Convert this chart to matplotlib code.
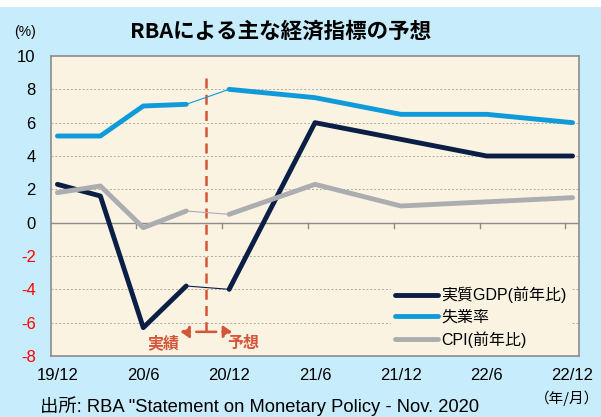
import matplotlib
matplotlib.use("Agg")
import matplotlib.pyplot as plt
from matplotlib.patches import Rectangle, FancyArrowPatch

plt.rcParams['font.family'] = ['Liberation Sans', 'Noto Sans CJK JP', 'DejaVu Sans']

# months after 2019/12
months = [0, 3, 6, 9, 12, 18, 24, 30, 36]
gdp = [2.3, 1.6, -6.3, -3.8, -4.0, 6.0, 5.0, 4.0, 4.0]
unemp = [5.2, 5.2, 7.0, 7.1, 8.0, 7.5, 6.5, 6.5, 6.0]
cpi = [1.8, 2.2, -0.3, 0.7, 0.5, 2.3, 1.0, 1.25, 1.5]
n_actual = 4  # first 4 points are actual values

xlabels = ['19/12', '20/6', '20/12', '21/6', '21/12', '22/6', '22/12']
xlabel_pos = [0, 6, 12, 18, 24, 30, 36]
yticks = [-8, -6, -4, -2, 0, 2, 4, 6, 8, 10]

series = [
    ('実質GDP(前年比)', gdp, '#0B1E45'),
    ('失業率', unemp, '#0F9BDA'),
    ('CPI(前年比)', cpi, '#ABADB0'),
]

W, H = 601, 417
fig = plt.figure(figsize=(W / 100, H / 100), dpi=100)
fig.patch.set_facecolor('#C7ECFB')
fig.patches.append(Rectangle((0, 1 - 7 / H), 1, 7 / H, transform=fig.transFigure,
                             facecolor='white', edgecolor='none', zorder=0))

ax = fig.add_axes([51 / W, 61 / H, (579 - 51) / W, (356 - 56) / H])
ax.set_facecolor('#FAF3E2')
ax.set_xlim(-0.45, 36.45)
ax.set_ylim(-8, 10)

for y in [-6, -4, -2, 2, 4, 6, 8]:
    ax.axhline(y, color='#B0ABA0', lw=0.7, ls=(0, (2, 2)), zorder=1)
ax.axhline(0, color='#8C8C8C', lw=1.0, zorder=1)
for t in [5.5, 11.5, 17.5, 23.5, 29.5, 35.5]:
    ax.plot([t, t], [0, -0.3], color='#8C8C8C', lw=1.0, zorder=1)

for spine in ax.spines.values():
    spine.set_color('#8C8C8C')
    spine.set_linewidth(1.2)

handles = []
for label, vals, col in series:
    h, = ax.plot(months[:n_actual], vals[:n_actual], color=col, lw=3.5,
                 solid_capstyle='round', solid_joinstyle='round', zorder=4, label=label)
    ax.plot(months[n_actual - 1:n_actual + 1], vals[n_actual - 1:n_actual + 1],
            color=col, lw=0.8, zorder=3)
    ax.plot(months[n_actual:], vals[n_actual:], color=col, lw=3.5,
            solid_capstyle='round', solid_joinstyle='round', zorder=4)
    handles.append(h)

red = '#D4553A'
ax.plot([10.4, 10.4], [8.7, -6.55], color=red, lw=1.8, ls=(0, (4, 2.5)), zorder=2)
ax.add_patch(FancyArrowPatch((10.4, -6.55), (8.6, -6.55), arrowstyle='-|>,head_length=5,head_width=3.5',
                             color=red, lw=1.8, ls=(0, (4, 2.5)), zorder=2, shrinkA=0, shrinkB=0))
ax.add_patch(FancyArrowPatch((10.4, -6.55), (12.2, -6.55), arrowstyle='-|>,head_length=5,head_width=3.5',
                             color=red, lw=1.8, ls=(0, (4, 2.5)), zorder=2, shrinkA=0, shrinkB=0))
ax.text(7.4, -7.25, '実績', color=red, fontsize=11.5, fontweight='bold', ha='center', va='center')
ax.text(13.0, -7.25, '予想', color=red, fontsize=11.5, fontweight='bold', ha='center', va='center')

ax.set_yticks(yticks)
ax.set_yticklabels([str(v) for v in yticks], fontsize=12)
for lab, v in zip(ax.get_yticklabels(), yticks):
    lab.set_color('#FF0000' if v < 0 else 'black')
ax.set_xticks(xlabel_pos)
ax.set_xticklabels(xlabels, fontsize=12)
ax.tick_params(axis='y', length=0, pad=11)
ax.tick_params(axis='x', length=0, pad=9)

leg = ax.legend(handles=handles, loc='lower right', bbox_to_anchor=(1.0, -0.015),
                frameon=True, fontsize=11.5, handlelength=2.65, handletextpad=0.2,
                labelspacing=0.4, borderpad=0.3)
leg.get_frame().set_facecolor('#FAF3E2')
leg.get_frame().set_edgecolor('none')
leg.get_frame().set_alpha(1)

fig.text(281 / W, 1 - 31 / H, 'RBAによる主な経済指標の予想', fontsize=15.5, fontweight='bold',
         ha='center', va='center', family=['Noto Sans CJK JP', 'DejaVu Sans'])
fig.text(25 / W, 1 - 32 / H, '(%)', fontsize=10, ha='center', va='center')
fig.text(40 / W, 1 - 406 / H, '出所: RBA "Statement on Monetary Policy - Nov. 2020', fontsize=13.2,
         ha='left', va='center')
fig.text(599 / W, 1 - 398 / H, '（年/月）', fontsize=10.5, ha='right', va='center',
         family=['Noto Sans CJK JP', 'DejaVu Sans'])

fig.savefig('out.png', dpi=100, facecolor=fig.get_facecolor())
